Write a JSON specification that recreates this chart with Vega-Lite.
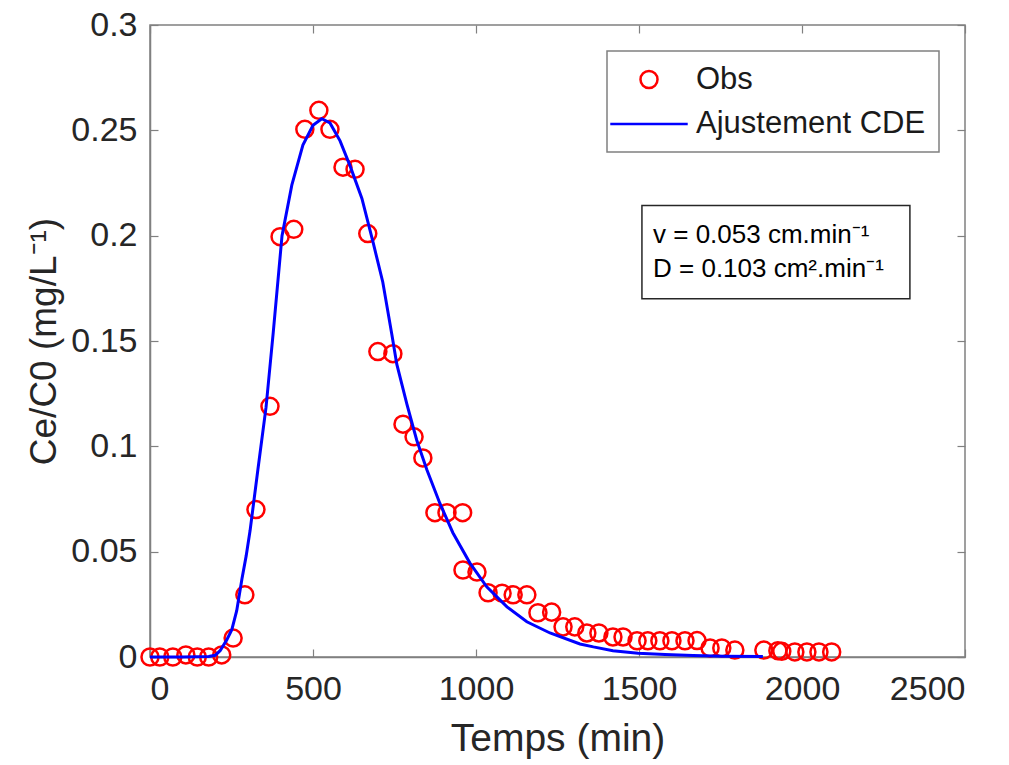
{
  "$schema": "https://vega.github.io/schema/vega-lite/v6.json",
  "width": 815,
  "height": 632,
  "autosize": {"type": "none"},
  "padding": {"left": 150, "top": 25, "right": 44, "bottom": 108},
  "background": "white",
  "config": {
    "font": "Liberation Sans",
    "view": {"stroke": "#808080", "strokeWidth": 1.5},
    "axis": {
      "grid": false,
      "domainColor": "#808080",
      "domainWidth": 1.5,
      "tickColor": "#808080",
      "tickWidth": 1.2,
      "tickSize": -8,
      "labelFont": "Liberation Sans",
      "labelFontSize": 34,
      "labelColor": "#262626",
      "titleFont": "Liberation Sans",
      "titleFontSize": 36,
      "titleFontWeight": "normal",
      "titleColor": "#262626"
    },
    "legend": {
      "orient": "top-right",
      "offset": 26,
      "strokeColor": "#808080",
      "strokeWidth": 1.5,
      "fillColor": "white",
      "padding": 13,
      "labelFont": "Liberation Sans",
      "labelFontSize": 31,
      "labelColor": "#1a1a1a",
      "labelLimit": 0,
      "labelOffset": 18,
      "symbolStrokeWidth": 2.5,
      "symbolOpacity": 1,
      "rowPadding": 0,
      "title": null
    }
  },
  "datasets": {
    "obs": [
      {"t": 0, "y": 0, "series": "Obs"},
      {"t": 30, "y": 0, "series": "Obs"},
      {"t": 70, "y": 0, "series": "Obs"},
      {"t": 110, "y": 0.001, "series": "Obs"},
      {"t": 145, "y": 0, "series": "Obs"},
      {"t": 180, "y": 0, "series": "Obs"},
      {"t": 220, "y": 0.001, "series": "Obs"},
      {"t": 255, "y": 0.009, "series": "Obs"},
      {"t": 291, "y": 0.0295, "series": "Obs"},
      {"t": 325, "y": 0.070, "series": "Obs"},
      {"t": 368, "y": 0.119, "series": "Obs"},
      {"t": 399, "y": 0.1995, "series": "Obs"},
      {"t": 441, "y": 0.203, "series": "Obs"},
      {"t": 475, "y": 0.2505, "series": "Obs"},
      {"t": 518, "y": 0.2595, "series": "Obs"},
      {"t": 552, "y": 0.2505, "series": "Obs"},
      {"t": 592, "y": 0.2325, "series": "Obs"},
      {"t": 629, "y": 0.2315, "series": "Obs"},
      {"t": 668, "y": 0.201, "series": "Obs"},
      {"t": 699, "y": 0.145, "series": "Obs"},
      {"t": 745, "y": 0.144, "series": "Obs"},
      {"t": 776, "y": 0.1105, "series": "Obs"},
      {"t": 810, "y": 0.1045, "series": "Obs"},
      {"t": 837, "y": 0.0945, "series": "Obs"},
      {"t": 874, "y": 0.0685, "series": "Obs"},
      {"t": 911, "y": 0.0685, "series": "Obs"},
      {"t": 959, "y": 0.0685, "series": "Obs"},
      {"t": 960, "y": 0.0413, "series": "Obs"},
      {"t": 1003, "y": 0.0403, "series": "Obs"},
      {"t": 1037, "y": 0.0305, "series": "Obs"},
      {"t": 1080, "y": 0.0303, "series": "Obs"},
      {"t": 1114, "y": 0.0295, "series": "Obs"},
      {"t": 1156, "y": 0.0295, "series": "Obs"},
      {"t": 1190, "y": 0.021, "series": "Obs"},
      {"t": 1232, "y": 0.0213, "series": "Obs"},
      {"t": 1267, "y": 0.0143, "series": "Obs"},
      {"t": 1303, "y": 0.0143, "series": "Obs"},
      {"t": 1340, "y": 0.0114, "series": "Obs"},
      {"t": 1377, "y": 0.0114, "series": "Obs"},
      {"t": 1420, "y": 0.0095, "series": "Obs"},
      {"t": 1451, "y": 0.0095, "series": "Obs"},
      {"t": 1494, "y": 0.0077, "series": "Obs"},
      {"t": 1527, "y": 0.0077, "series": "Obs"},
      {"t": 1564, "y": 0.0077, "series": "Obs"},
      {"t": 1601, "y": 0.0077, "series": "Obs"},
      {"t": 1641, "y": 0.0077, "series": "Obs"},
      {"t": 1678, "y": 0.0078, "series": "Obs"},
      {"t": 1718, "y": 0.0043, "series": "Obs"},
      {"t": 1754, "y": 0.0043, "series": "Obs"},
      {"t": 1794, "y": 0.0033, "series": "Obs"},
      {"t": 1883, "y": 0.0033, "series": "Obs"},
      {"t": 1926, "y": 0.003, "series": "Obs"},
      {"t": 1938, "y": 0.0027, "series": "Obs"},
      {"t": 1978, "y": 0.0024, "series": "Obs"},
      {"t": 2015, "y": 0.0024, "series": "Obs"},
      {"t": 2052, "y": 0.0024, "series": "Obs"},
      {"t": 2091, "y": 0.0024, "series": "Obs"}
    ],
    "fit": [
      {"t": 0, "y": 0, "series": "Ajustement CDE"},
      {"t": 100, "y": 0, "series": "Ajustement CDE"},
      {"t": 180, "y": 0.0002, "series": "Ajustement CDE"},
      {"t": 200, "y": 0.0008, "series": "Ajustement CDE"},
      {"t": 215, "y": 0.003, "series": "Ajustement CDE"},
      {"t": 235, "y": 0.008, "series": "Ajustement CDE"},
      {"t": 251, "y": 0.013, "series": "Ajustement CDE"},
      {"t": 266, "y": 0.022, "series": "Ajustement CDE"},
      {"t": 282, "y": 0.037, "series": "Ajustement CDE"},
      {"t": 295, "y": 0.048, "series": "Ajustement CDE"},
      {"t": 307, "y": 0.060, "series": "Ajustement CDE"},
      {"t": 331, "y": 0.089, "series": "Ajustement CDE"},
      {"t": 356, "y": 0.1186, "series": "Ajustement CDE"},
      {"t": 378, "y": 0.154, "series": "Ajustement CDE"},
      {"t": 405, "y": 0.2, "series": "Ajustement CDE"},
      {"t": 435, "y": 0.224, "series": "Ajustement CDE"},
      {"t": 469, "y": 0.243, "series": "Ajustement CDE"},
      {"t": 500, "y": 0.2524, "series": "Ajustement CDE"},
      {"t": 527, "y": 0.2555, "series": "Ajustement CDE"},
      {"t": 552, "y": 0.2535, "series": "Ajustement CDE"},
      {"t": 583, "y": 0.245, "series": "Ajustement CDE"},
      {"t": 614, "y": 0.233, "series": "Ajustement CDE"},
      {"t": 650, "y": 0.2177, "series": "Ajustement CDE"},
      {"t": 684, "y": 0.197, "series": "Ajustement CDE"},
      {"t": 714, "y": 0.178, "series": "Ajustement CDE"},
      {"t": 742, "y": 0.153, "series": "Ajustement CDE"},
      {"t": 757, "y": 0.139, "series": "Ajustement CDE"},
      {"t": 788, "y": 0.12, "series": "Ajustement CDE"},
      {"t": 818, "y": 0.103, "series": "Ajustement CDE"},
      {"t": 849, "y": 0.089, "series": "Ajustement CDE"},
      {"t": 889, "y": 0.073, "series": "Ajustement CDE"},
      {"t": 929, "y": 0.059, "series": "Ajustement CDE"},
      {"t": 981, "y": 0.0447, "series": "Ajustement CDE"},
      {"t": 1033, "y": 0.0333, "series": "Ajustement CDE"},
      {"t": 1095, "y": 0.0238, "series": "Ajustement CDE"},
      {"t": 1156, "y": 0.0167, "series": "Ajustement CDE"},
      {"t": 1227, "y": 0.0114, "series": "Ajustement CDE"},
      {"t": 1319, "y": 0.0062, "series": "Ajustement CDE"},
      {"t": 1360, "y": 0.0048, "series": "Ajustement CDE"},
      {"t": 1420, "y": 0.003, "series": "Ajustement CDE"},
      {"t": 1497, "y": 0.0018, "series": "Ajustement CDE"},
      {"t": 1580, "y": 0.0012, "series": "Ajustement CDE"},
      {"t": 1666, "y": 0.0007, "series": "Ajustement CDE"},
      {"t": 1760, "y": 0.0004, "series": "Ajustement CDE"},
      {"t": 1880, "y": 0.0002, "series": "Ajustement CDE"}
    ],
    "box": [
      {"x1": 1509, "x2": 2331, "y1": 0.1700, "y2": 0.2143}
    ],
    "notes": [
      {"t": 1543, "y": 0.2005, "label": "v = 0.053 cm.min⁻¹"},
      {"t": 1543, "y": 0.1843, "label": "D = 0.103 cm².min⁻¹"}
    ]
  },
  "resolve": {"axis": {"x": "independent", "y": "independent"}},
  "layer": [
    {
      "data": {"name": "obs"},
      "mark": {"type": "point", "filled": false, "strokeWidth": 2.5, "opacity": 1},
      "encoding": {
        "x": {"field": "t", "type": "quantitative", "title": "Temps (min)",
              "scale": {"domain": [0, 2500], "nice": false, "zero": false},
              "axis": {"values": [0, 500, 1000, 1500, 2000, 2500], "format": "d", "labelPadding": 23, "titlePadding": 13, "titleFontSize": 39}},
        "y": {"field": "y", "type": "quantitative", "title": "Ce/C0 (mg/L⁻¹)",
              "scale": {"domain": [0, 0.3], "nice": false},
              "axis": {"values": [0, 0.05, 0.1, 0.15, 0.2, 0.25, 0.3], "format": "~g", "labelPadding": 21, "titlePadding": 7, "titleFontSize": 37}},
        "color": {"field": "series", "type": "nominal",
                  "scale": {"domain": ["Obs", "Ajustement CDE"], "range": ["#ff0000", "#0000ff"]}},
        "shape": {"field": "series", "type": "nominal",
                  "scale": {"domain": ["Obs", "Ajustement CDE"], "range": ["circle", "M-1.414,0H1.414"]}},
        "size": {"field": "series", "type": "nominal",
                 "scale": {"domain": ["Obs", "Ajustement CDE"], "range": [290, 3000]}}
      }
    },
    {
      "data": {"name": "fit"},
      "mark": {"type": "line", "strokeWidth": 3},
      "encoding": {
        "x": {"field": "t", "type": "quantitative", "axis": null},
        "y": {"field": "y", "type": "quantitative", "axis": null},
        "color": {"field": "series", "type": "nominal"}
      }
    },
    {
      "data": {"name": "box"},
      "mark": {"type": "rect", "fill": "white", "stroke": "#262626", "strokeWidth": 1.5},
      "encoding": {
        "x": {"field": "x1", "type": "quantitative",
              "axis": {"orient": "top", "labels": false, "title": null, "domain": false, "values": [0, 500, 1000, 1500, 2000, 2500]}},
        "x2": {"field": "x2"},
        "y": {"field": "y1", "type": "quantitative",
              "axis": {"orient": "right", "labels": false, "title": null, "domain": false, "values": [0, 0.05, 0.1, 0.15, 0.2, 0.25, 0.3]}},
        "y2": {"field": "y2"}
      }
    },
    {
      "data": {"name": "notes"},
      "mark": {"type": "text", "align": "left", "baseline": "middle", "fontSize": 26, "font": "Liberation Sans", "color": "#000000"},
      "encoding": {
        "x": {"field": "t", "type": "quantitative", "axis": null},
        "y": {"field": "y", "type": "quantitative", "axis": null},
        "text": {"field": "label"}
      }
    }
  ]
}
